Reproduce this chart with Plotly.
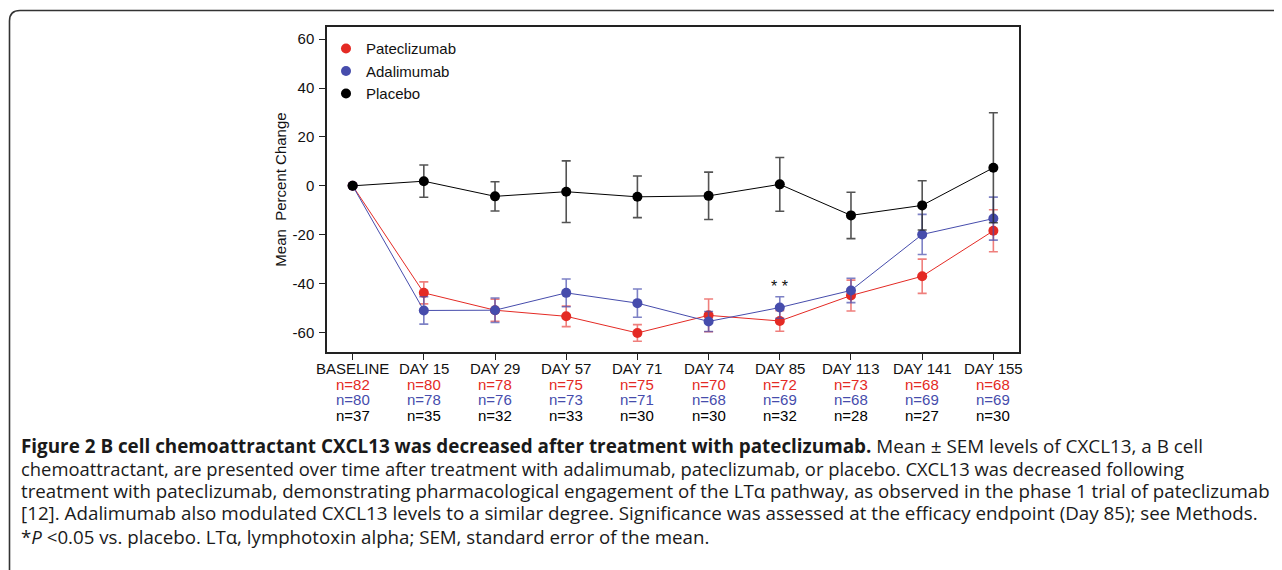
import plotly.graph_objects as go

# ---------------- data ----------------
categories = ["BASELINE", "DAY 15", "DAY 29", "DAY 57", "DAY 71", "DAY 74",
              "DAY 85", "DAY 113", "DAY 141", "DAY 155"]

pateclizumab = [0, -43.8, -50.9, -53.4, -60.2, -53.0, -55.3, -44.9, -37.0, -18.4]
pateclizumab_sem = [None, 4.5, 4.5, 4.2, 3.4, 6.7, 4.2, 6.3, 7.0, 8.6]

adalimumab = [0, -51.0, -50.9, -43.8, -48.0, -55.5, -49.8, -42.8, -19.9, -13.4]
adalimumab_sem = [None, 5.6, 5.0, 5.7, 5.8, 4.1, 4.4, 5.0, 8.2, 8.8]

placebo = [0, 1.9, -4.3, -2.4, -4.5, -4.1, 0.6, -12.1, -8.0, 7.4]
placebo_sem = [None, 6.6, 6.0, 12.6, 8.5, 9.7, 11.0, 9.5, 10.1, 22.5]

n_pateclizumab = [82, 80, 78, 75, 75, 70, 72, 73, 68, 68]
n_adalimumab = [80, 78, 76, 73, 71, 68, 69, 68, 69, 69]
n_placebo = [37, 35, 32, 33, 30, 30, 32, 28, 27, 30]

y_ticks = [-60, -40, -20, 0, 20, 40, 60]
y_tick_labels = ["-60", "-40", "-20", "0", "20", "40", "60"]

caption_lines = [
    "<b>Figure 2 B cell chemoattractant CXCL13 was decreased after treatment with pateclizumab.</b> Mean ± SEM levels of CXCL13, a B cell",
    "chemoattractant, are presented over time after treatment with adalimumab, pateclizumab, or placebo. CXCL13 was decreased following",
    "treatment with pateclizumab, demonstrating pharmacological engagement of the LTα pathway, as observed in the phase 1 trial of pateclizumab",
    "[12]. Adalimumab also modulated CXCL13 levels to a similar degree. Significance was assessed at the efficacy endpoint (Day 85); see Methods.",
    "*<i>P</i> &lt;0.05 vs. placebo. LTα, lymphotoxin alpha; SEM, standard error of the mean.",
]

# ---------------- styling ----------------
OFF = 8                      # page body margin of the html page
W, H = 1282 - OFF, 570 - OFF
ML, MR, MT, MB = 319, 263, 19, 218
PW, PH = W - ML - MR, H - MT - MB

RED = "rgb(228,42,36)"
RED_ERR = "rgba(228,42,36,0.6)"
BLUE = "rgb(70,76,172)"
BLUE_ERR = "rgba(70,76,172,0.7)"
BLACK = "rgb(0,0,0)"
BLACK_ERR = "rgba(40,40,40,0.8)"
FONT = "Liberation Sans, Arial, Helvetica, sans-serif"
CAP_FONT = "Open Sans, Lato, sans-serif"
CAP_SIZES = [18.85, 18.4, 18.7, 18.8, 18.7]
CAP_Y = [445.7, 468.3, 490.8, 513.3, 536.3]


def px_x(sx):
    """screen x (px) -> paper x"""
    return (sx - OFF - ML) / PW


def px_y(sy):
    """screen y (px) -> paper y"""
    return (H - MB - (sy - OFF)) / PH


fig = go.Figure()

series = [
    ("Pateclizumab", pateclizumab, pateclizumab_sem, RED, RED_ERR),
    ("Adalimumab", adalimumab, adalimumab_sem, BLUE, BLUE_ERR),
    ("Placebo", placebo, placebo_sem, BLACK, BLACK_ERR),
]
for name, vals, sem, col, ecol in series:
    fig.add_trace(go.Scatter(
        x=categories, y=vals, name=name, mode="lines+markers",
        line=dict(color=col, width=1),
        marker=dict(color=col, size=10),
        error_y=dict(type="data", array=sem, visible=True,
                     color=ecol, thickness=1.6, width=4.5),
        showlegend=False,
    ))
# legend entries (marker only)
for i, (name, vals, sem, col, ecol) in enumerate(series):
    fig.add_trace(go.Scatter(
        x=[None], y=[None], name=name, mode="markers",
        marker=dict(color=col, size=10), showlegend=True, legendgroup=f"g{i}",
    ))

annotations = []
# category labels + n rows beneath axis
annotations += [dict(
    x=c, xref="x", y=px_y(368.7), yref="paper", text=c,
    showarrow=False, xanchor="center", yanchor="middle",
    font=dict(family=FONT, size=15, color="#111"),
) for c in categories]
rows = [(n_pateclizumab, RED, 384.0), (n_adalimumab, BLUE, 399.7), (n_placebo, BLACK, 415.4)]
for ns, col, sy in rows:
    for c, n in zip(categories, ns):
        annotations.append(dict(
            x=c, xref="x", y=px_y(sy), yref="paper", text=f"n={n}",
            showarrow=False, xanchor="center", yanchor="middle",
            font=dict(family=FONT, size=15, color=col),
        ))

# significance marker at Day 85
annotations.append(dict(
    x=categories[6], xref="x", y=adalimumab[6] + adalimumab_sem[6], yref="y",
    text="* *", showarrow=False, xanchor="center", yanchor="bottom", yshift=0,
    font=dict(family=FONT, size=16, color="#111"),
))

# caption
for line, sy, fs in zip(caption_lines, CAP_Y, CAP_SIZES):
    annotations.append(dict(
        x=px_x(19), xref="paper", y=px_y(sy), yref="paper", text=line,
        showarrow=False, xanchor="left", yanchor="middle", align="left",
        font=dict(family=CAP_FONT, size=fs, color="#1a1a1a"),
    ))

# outer rounded frame (cut off at right and bottom)
frame_path = (
    f"M {px_x(9.5)},{px_y(600)} L {px_x(9.5)},{px_y(21)} "
    f"Q {px_x(9.5)},{px_y(10.5)} {px_x(20)},{px_y(10.5)} "
    f"L {px_x(1300)},{px_y(10.5)}"
)
shapes = [dict(type="path", xref="paper", yref="paper", path=frame_path,
               line=dict(color="#333", width=1.6))]

fig.update_layout(
    width=W, height=H,
    margin=dict(l=ML, r=MR, t=MT, b=MB, autoexpand=False),
    paper_bgcolor="white", plot_bgcolor="white",
    font=dict(family=FONT, size=15, color="#111"),
    showlegend=True,
    legend=dict(x=px_x(326), y=px_y(32.3), xanchor="left", yanchor="top",
                bgcolor="rgba(0,0,0,0)", font=dict(family=FONT, size=15, color="#111"),
                tracegroupgap=0, itemwidth=30),
    annotations=annotations,
    shapes=shapes,
)
fig.update_xaxes(
    type="category", categoryorder="array", categoryarray=categories,
    range=[-0.36, 9.36], showgrid=False, zeroline=False,
    showline=True, mirror=True, linecolor="#222", linewidth=1.5,
    ticks="outside", ticklen=6, tickwidth=1.2, tickcolor="#222",
    showticklabels=False,
)
fig.update_yaxes(
    range=[-68, 65], tickvals=y_ticks, ticktext=y_tick_labels,
    showgrid=False, zeroline=False,
    showline=True, mirror=True, linecolor="#222", linewidth=1.5,
    ticks="outside", ticklen=6, tickwidth=1.2, tickcolor="#222",
    ticklabelstandoff=2,
    tickfont=dict(family=FONT, size=15, color="#111"),
    title=dict(text="Mean  Percent Change", standoff=2,
               font=dict(family=FONT, size=15, color="#111")),
)

fig.write_html("out.html")
